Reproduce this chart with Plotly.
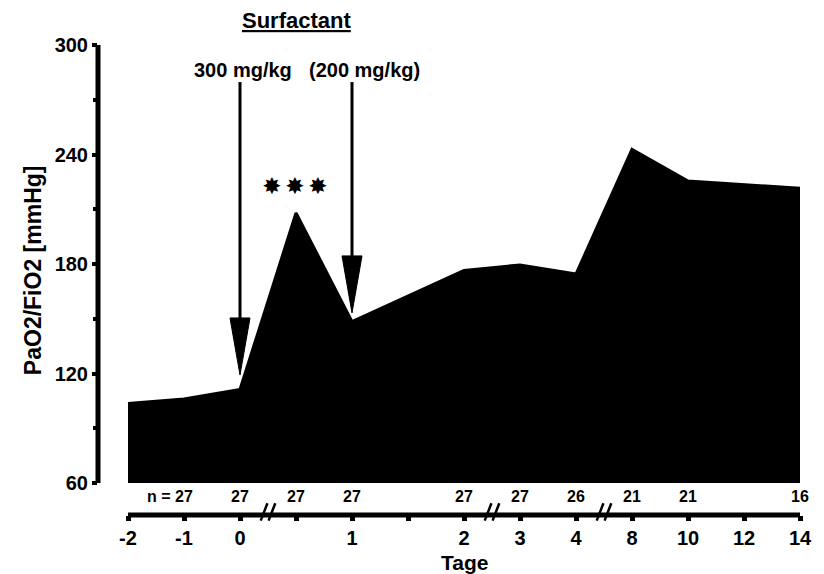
import plotly.graph_objects as go

# ---- data ----
tick_labels = ["-2", "-1", "0", "", "1", "", "2", "3", "4", "8", "10", "12", "14"]
x_idx = [0, 1, 2, 3, 4, 6, 7, 8, 9, 10, 12]          # positions on the (broken) time axis
pao2_fio2 = [103.5, 106, 111.2, 208, 148.4, 176.5, 179.5, 174.5, 242.8, 225.5, 221.5]
n_pos = [1, 2, 3, 4, 6, 7, 8, 9, 10, 12]
n_vals = ["27", "27", "27", "27", "27", "27", "26", "21", "21", "16"]
break_pos = [2.5, 6.5, 8.5]
dose_pos = [2, 4]
dose_labels = ["300 mg/kg", "(200 mg/kg)"]
dose_tip = [119.2, 153.2]
star_pos = [2.57, 2.98, 3.39]
star_y = 221.6
y_ticks = [60, 120, 180, 240, 300]
y_minor = [90, 150, 210, 270]

FONT = "Liberation Sans, Arial, sans-serif"
px_per_idx = 56.0
px_per_unit = 1.825

fig = go.Figure()
# baseline at 60 for the filled area
fig.add_trace(go.Scatter(x=x_idx, y=[60] * len(x_idx), mode="lines",
                         line=dict(color="black", width=0), showlegend=False, hoverinfo="skip"))
fig.add_trace(go.Scatter(x=x_idx, y=pao2_fio2, mode="lines", fill="tonexty",
                         fillcolor="black", line=dict(color="black", width=3, shape="linear"),
                         showlegend=False))
# stars
fig.add_trace(go.Scatter(x=star_pos, y=[star_y] * 3, mode="text", text=["✸"] * 3,
                         textfont=dict(size=23, color="black", family="DejaVu Sans"),
                         showlegend=False))

shapes = []
# y axis line from 60 to 300
shapes.append(dict(type="line", xref="paper", yref="y", x0=0, x1=0, y0=60, y1=300,
                   line=dict(color="black", width=5)))
# x axis line
shapes.append(dict(type="line", xref="x", yref="paper", x0=0, x1=len(tick_labels) - 1,
                   y0=0, y1=0, line=dict(color="black", width=5)))
# breaks "//"
for b in break_pos:
    for off in (-0.07, 0.07):
        shapes.append(dict(type="line", xref="x", yref="paper",
                           x0=b + off - 0.06, x1=b + off + 0.06, y0=-0.012, y1=0.025,
                           line=dict(color="black", width=2.5)))
# arrows
head_len = 57 / px_per_unit
half_w = 10 / px_per_idx
arrow_top = 279.7
for p, tip in zip(dose_pos, dose_tip):
    shapes.append(dict(type="line", xref="x", yref="y", x0=p, x1=p, y0=arrow_top, y1=tip + head_len,
                       line=dict(color="black", width=3)))
    shapes.append(dict(type="path", xref="x", yref="y",
                       path=f"M {p - half_w},{tip + head_len} L {p + half_w},{tip + head_len} L {p},{tip} Z",
                       fillcolor="black", line=dict(color="black", width=1)))


def ann(x, y, text, size, xref="x", yref="paper", xanchor="center", **kw):
    return dict(x=x, y=y, xref=xref, yref=yref, text=text, showarrow=False,
                xanchor=xanchor, yanchor="middle",
                font=dict(size=size, family=FONT, color="black"), **kw)


annotations = []
for p, t in zip(n_pos, n_vals):
    if p == n_pos[0]:
        annotations.append(ann(p + 0.2, 52.4, "<b>n = " + t + "</b>", 16, yref="y", xanchor="right"))
    else:
        annotations.append(ann(p, 52.4, "<b>" + t + "</b>", 16, yref="y"))
# dose labels
annotations.append(ann(dose_pos[0] + 0.06, 0.947, "<b>" + dose_labels[0] + "</b>", 20))
annotations.append(ann(dose_pos[1] + 0.23, 0.947, "<b>" + dose_labels[1] + "</b>", 20))
annotations.append(ann(3, 1.053, "<b><u>Surfactant</u></b>", 22))
annotations.append(ann(-65 / 712, 0.521, "<b>PaO2/FiO2 [mmHg]</b>", 23, xref="paper", textangle=-90))
annotations.append(ann(6, -0.102, "<b>Tage</b>", 21))

fig.update_layout(
    width=816, height=566,
    margin=dict(l=90, r=14, t=37, b=59),
    plot_bgcolor="white", paper_bgcolor="white",
    shapes=shapes, annotations=annotations,
    font=dict(family=FONT, color="black"),
    xaxis=dict(range=[-30 / px_per_idx, 12 + 10 / px_per_idx], tickmode="array",
               tickvals=list(range(len(tick_labels))),
               ticktext=["<b>" + t + "</b>" if t else "" for t in tick_labels],
               ticks="outside", ticklen=5, tickwidth=5, tickcolor="black",
               showline=False, showgrid=False, zeroline=False,
               tickfont=dict(size=20, family=FONT, color="black")),
    yaxis=dict(range=[60 - 32 / px_per_unit, 300], tickmode="array", tickvals=y_ticks,
               ticktext=["<b>" + str(v) + "</b>" for v in y_ticks],
               ticks="outside", ticklen=5, tickwidth=4, tickcolor="black",
               minor=dict(tickmode="array", tickvals=y_minor, ticks="outside", ticklen=4,
                          tickwidth=4, tickcolor="black"),
               showline=False, showgrid=False, zeroline=False,
               tickfont=dict(size=20, family=FONT, color="black")),
)

fig.write_html("out.html")
